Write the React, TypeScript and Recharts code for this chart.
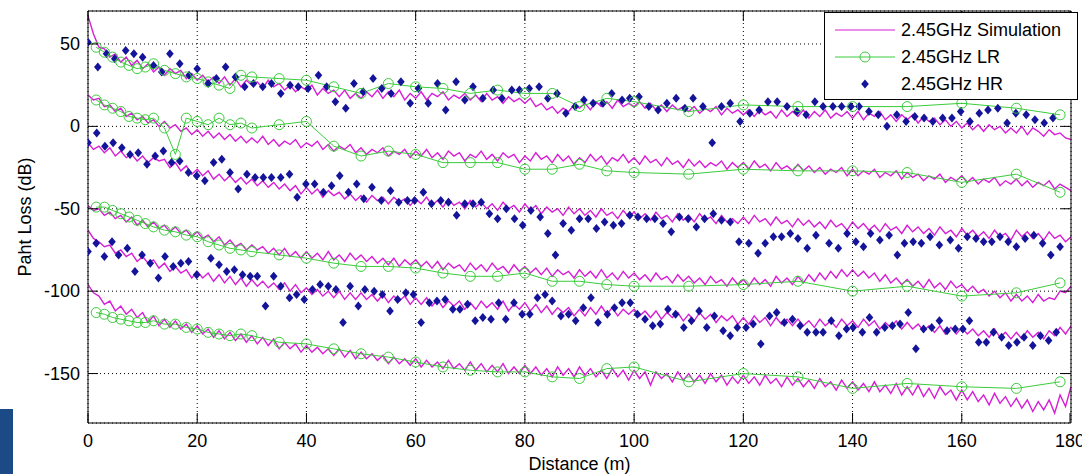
import React from "react"
import {
 CartesianGrid,
 ComposedChart,
 Legend,
 Line,
 Scatter,
 XAxis,
 YAxis,
} from "recharts"

const FONT = '"Liberation Sans", Arial, Helvetica, sans-serif'
const MAGENTA = "#d61fd6"
const GREEN = "#3acc3a"
const BLUE = "#14149a"

const X_TICKS = [0, 20, 40, 60, 80, 100, 120, 140, 160, 180]
const Y_TICKS = [-150, -100, -50, 0, 50]

// simulation curves, one value per metre (0..180 m)
const SIM1 = [
 67, 56, 48, 47, 42, 44, 39, 42, 37, 40,
 35, 38, 33, 36, 31, 35, 32, 34, 29, 32,
 28, 31, 27, 30, 26, 30, 25, 29, 24, 28,
 25, 27, 23, 28, 24, 26, 22, 25, 21, 24,
 22, 25, 19, 23, 20, 22, 18, 22, 17, 20,
 17, 21, 18, 22, 17, 21, 18, 22, 16, 20,
 17, 21, 16, 20, 18, 21, 16, 19, 17, 20,
 16, 19, 15, 20, 16, 18, 14, 18, 15, 17,
 14, 17, 12, 14, 10, 12, 8, 11, 9, 13,
 11, 14, 10, 15, 12, 15, 11, 16, 12, 14,
 12, 15, 11, 14, 10, 13, 9, 13, 10, 12,
 9, 12, 8, 11, 9, 12, 7, 11, 8, 10,
 7, 10, 6, 10, 7, 9, 5, 10, 6, 9,
 6, 10, 5, 9, 6, 10, 5, 8, 6, 9,
 5, 9, 4, 8, 6, 9, 4, 7, 3, 7,
 4, 7, 2, 6, 3, 5, 1, 4, 0, 3,
 -1, 2, -2, 1, -3, 1, -2, 0, -4, -1,
 -4, 0, -5, -1, -3, -6, -2, -5, -4, -7,
 -8,
]
const SIM2 = [
 19, 16, 17, 12, 13, 9, 11, 6, 8, 4,
 6, 2, 4, 0, 3, -1, 1, -3, -1, -5,
 -2, -6, -3, -7, -4, -8, -5, -9, -6, -10,
 -7, -10, -6, -11, -8, -12, -9, -11, -8, -13,
 -10, -12, -9, -14, -11, -15, -12, -14, -11, -16,
 -13, -17, -14, -16, -13, -18, -15, -17, -14, -19,
 -15, -18, -14, -19, -16, -20, -15, -18, -16, -21,
 -17, -19, -15, -20, -17, -21, -16, -19, -17, -22,
 -18, -21, -16, -20, -18, -22, -17, -21, -18, -23,
 -19, -22, -17, -21, -18, -23, -19, -21, -17, -22,
 -19, -23, -18, -22, -20, -24, -19, -23, -21, -25,
 -20, -24, -21, -25, -22, -24, -21, -26, -22, -25,
 -22, -26, -21, -25, -23, -27, -22, -26, -24, -27,
 -23, -27, -24, -28, -25, -29, -26, -28, -25, -30,
 -26, -30, -27, -29, -26, -31, -28, -30, -27, -32,
 -28, -31, -29, -33, -30, -32, -29, -34, -31, -33,
 -30, -34, -31, -35, -32, -34, -31, -36, -33, -35,
 -32, -36, -33, -37, -34, -36, -33, -38, -35, -37,
 -39,
]
const SIM3 = [
 -10, -14, -12, -16, -13, -18, -15, -19, -17, -21,
 -18, -22, -19, -21, -20, -25, -22, -27, -24, -29,
 -26, -30, -27, -32, -29, -33, -30, -34, -31, -35,
 -32, -36, -33, -37, -34, -38, -35, -39, -36, -41,
 -37, -41, -38, -43, -39, -42, -40, -44, -41, -45,
 -42, -46, -42, -45, -43, -47, -43, -46, -44, -48,
 -44, -47, -43, -48, -45, -49, -44, -48, -46, -50,
 -45, -49, -46, -50, -47, -51, -46, -50, -48, -52,
 -47, -51, -48, -53, -49, -52, -50, -54, -49, -53,
 -50, -54, -51, -55, -50, -54, -52, -56, -51, -55,
 -52, -56, -53, -57, -52, -56, -54, -58, -53, -57,
 -54, -58, -53, -57, -55, -59, -54, -58, -56, -59,
 -55, -59, -54, -58, -56, -60, -55, -59, -57, -61,
 -56, -60, -57, -61, -58, -62, -57, -61, -59, -63,
 -58, -62, -59, -63, -60, -64, -59, -63, -61, -65,
 -60, -64, -61, -65, -62, -66, -61, -65, -63, -67,
 -62, -66, -63, -67, -64, -68, -63, -67, -65, -69,
 -63, -67, -64, -68, -65, -69, -64, -68, -66, -70,
 -67,
]
const SIM4 = [
 -48, -51, -50, -54, -52, -56, -54, -58, -55, -60,
 -57, -61, -58, -62, -60, -64, -61, -65, -63, -67,
 -64, -68, -66, -70, -67, -72, -69, -73, -71, -75,
 -72, -75, -73, -77, -74, -78, -74, -79, -76, -80,
 -76, -80, -77, -81, -76, -81, -78, -82, -77, -81,
 -78, -82, -79, -83, -80, -84, -80, -85, -81, -84,
 -81, -85, -82, -86, -82, -87, -83, -86, -84, -88,
 -83, -87, -84, -88, -83, -87, -85, -89, -84, -88,
 -85, -89, -86, -90, -86, -91, -87, -90, -88, -92,
 -87, -91, -88, -92, -87, -92, -89, -93, -88, -92,
 -89, -93, -90, -94, -89, -93, -91, -95, -90, -94,
 -91, -95, -92, -96, -91, -95, -93, -97, -92, -96,
 -93, -97, -92, -96, -93, -97, -91, -95, -92, -96,
 -91, -95, -90, -94, -89, -93, -88, -92, -87, -91,
 -87, -91, -88, -92, -89, -94, -90, -95, -92, -96,
 -93, -97, -94, -98, -93, -98, -95, -99, -94, -98,
 -96, -100, -97, -101, -99, -103, -100, -104, -101, -106,
 -102, -106, -103, -107, -102, -106, -104, -105, -100, -101,
 -97,
]
const SIM5 = [
 -63, -68, -70, -73, -72, -77, -75, -79, -77, -82,
 -79, -83, -81, -86, -83, -88, -85, -89, -87, -92,
 -88, -92, -89, -94, -90, -95, -91, -96, -92, -97,
 -93, -97, -94, -98, -95, -99, -95, -100, -96, -101,
 -98, -102, -99, -103, -100, -104, -100, -105, -101, -105,
 -101, -105, -102, -106, -102, -107, -103, -106, -103, -108,
 -104, -108, -104, -109, -105, -110, -106, -109, -106, -111,
 -107, -111, -106, -110, -107, -111, -106, -112, -108, -111,
 -107, -112, -108, -113, -109, -114, -110, -113, -110, -115,
 -111, -115, -110, -114, -109, -114, -110, -115, -111, -114,
 -111, -115, -112, -116, -112, -117, -113, -116, -113, -118,
 -114, -118, -113, -117, -114, -119, -115, -118, -115, -120,
 -116, -120, -115, -119, -116, -121, -116, -120, -117, -121,
 -117, -121, -118, -122, -117, -121, -118, -122, -117, -121,
 -118, -122, -117, -121, -118, -123, -119, -122, -118, -123,
 -119, -123, -120, -124, -121, -125, -121, -126, -122, -126,
 -122, -126, -123, -127, -124, -128, -123, -128, -125, -129,
 -125, -129, -124, -128, -125, -129, -124, -127, -122, -126,
 -121,
]
const SIM6 = [
 -96, -101, -103, -108, -106, -112, -109, -114, -111, -116,
 -113, -119, -115, -121, -117, -122, -118, -123, -120, -125,
 -121, -126, -123, -128, -124, -129, -125, -130, -126, -131,
 -127, -132, -128, -133, -129, -135, -131, -135, -132, -137,
 -133, -137, -134, -138, -135, -139, -135, -140, -136, -141,
 -137, -141, -138, -142, -139, -144, -140, -144, -141, -145,
 -141, -146, -142, -146, -143, -147, -142, -147, -144, -148,
 -143, -148, -144, -149, -145, -149, -144, -150, -146, -150,
 -145, -150, -146, -151, -147, -152, -146, -151, -147, -152,
 -146, -151, -147, -152, -148, -153, -147, -152, -148, -154,
 -148, -153, -149, -157, -149, -153, -150, -155, -149, -154,
 -150, -155, -151, -156, -150, -155, -151, -157, -152, -156,
 -151, -156, -152, -157, -151, -156, -153, -158, -152, -157,
 -153, -158, -154, -159, -153, -158, -155, -160, -154, -159,
 -155, -160, -156, -161, -155, -161, -157, -162, -156, -163,
 -158, -163, -157, -164, -159, -165, -158, -163, -160, -166,
 -160, -166, -161, -167, -163, -169, -162, -168, -164, -170,
 -165, -171, -166, -173, -167, -172, -166, -174, -163, -170,
 -158,
]

// LR measurement positions (m) and values (dB)
const LR_X = [
 1.5, 3, 4.5, 6, 7.5, 9, 10.5, 12, 14, 16, 18, 20, 22, 24, 26, 28, 30,
 35, 40, 45, 50, 55, 60, 65, 70, 75, 80, 85, 90, 95, 100,
 110, 120, 130, 140, 150, 160, 170, 178,
]
const LR1 = [
 48, 45, 42, 39, 37, 35, 36, 38, 34, 32, 30, 29, 27, 25, 23, 31, 30,
 29, 28, 24, 20, 26, 24, 23, 20, 22, 20, 20, 12, 17, 15,
 9, 13, 12, 12, 12, 14, 11, 7,
]
const LR2 = [
 16, 13, 11, 9, 6, 5, 4, 5, -1, -17, 5, 3, 1, 5, 1, 2, -1,
 1, 3, -12, -18, -15, -17, -22, -22, -22, -26, -26, -23, -27, -28,
 -29, -26, -27, -27, -28, -34, -29, -40,
]
const LR4 = [
 -49, -49, -51, -53, -55, -57, -59, -61, -63, -64, -66, -67, -70, -72, -74, -75, -76,
 -78, -80, -83, -85, -85, -86, -89, -91, -91, -89, -94, -94, -96, -97,
 -97, -96, -94, -100, -97, -103, -101, -95,
]
const LR6 = [
 -113, -114, -116, -117, -118, -119, -119, -118, -120, -120, -122, -123, -125, -126, -127, -126, -127,
 -131, -132, -135, -138, -140, -143, -146, -148, -149, -149, -152, -153, -147, -146,
 -155, -150, -152, -159, -156, -158, -159, -155,
]

// HR measurements [distance, loss]
const HR1: [number, number][] = [
 [0, 51], [1.8, 36], [3.4, 44], [4.9, 41], [6.9, 46], [8.4, 44], [10, 42], [12, 37], [13.5, 33], [15, 44],
 [16.8, 38], [18.5, 31], [20, 35], [22, 26], [23.5, 29], [25.2, 36], [27, 30], [28.7, 24], [30.3, 26], [32, 24],
 [33.6, 26], [35.3, 20], [37, 25], [38.5, 24], [40.3, 23], [42.2, 31], [43.7, 24], [45.3, 15], [47.2, 11], [48.7, 26],
 [50.4, 21], [52.2, 29], [53.8, 23], [55.5, 20], [57.3, 27], [59, 14], [60.5, 23], [62.3, 14], [64, 26], [65.5, 10],
 [67.4, 27], [69, 16], [70.5, 24], [72.3, 17], [74.2, 22], [75.8, 17], [77.6, 22], [79, 22], [80.8, 23], [82.6, 24],
 [84.2, 17], [85.9, 20], [87.5, 8], [89.2, 12], [90.8, 16], [92.5, 14], [94.3, 14], [95.9, 20], [97.8, 16], [99.2, 17],
 [100.9, 18], [102.7, 12], [104.4, 10], [106, 14], [107.7, 17], [109.3, 11], [110.8, 17], [112.6, 12], [114.3, -10], [116, 12],
 [117.6, 14], [119.4, 3], [121.2, 8], [122.9, 10], [124.5, 15], [126.2, 15], [128, 12], [129.8, 9], [131.5, 7], [133.1, 15],
 [134.6, 12], [136.4, 12], [138, 12], [139.7, 12], [141.2, 12], [143, 9], [144.7, 7], [146.3, 0], [148.1, 7], [149.8, 3],
 [151.4, 6], [153.1, 5], [154.7, 3], [156.5, 5], [158.2, 5], [159.8, 9], [161.5, 3], [163.2, 8], [164.8, 10], [166.6, 11],
 [168.3, 2], [169.9, 8], [171.8, 7], [173.4, 4], [175.1, 2], [176.7, 5],
]
const HR3: [number, number][] = [
 [0, -10], [1.6, -4], [3.1, -12], [4.6, -10], [6.2, -13], [7.7, -17], [9.2, -16], [10.8, -23], [12.3, -18], [13.8, -15],
 [15.3, -22], [16.8, -21], [18.4, -28], [19.9, -30], [21.4, -33], [23, -22], [24.5, -20], [26, -28], [27.5, -38], [29.1, -29],
 [30.6, -31], [32.1, -31], [33.6, -31], [35.3, -31], [36.9, -29], [38.3, -43], [39.9, -35], [41.5, -35], [43.1, -40], [44.6, -36],
 [46.1, -30], [47.7, -40], [49.2, -35], [50.5, -44], [52, -37], [53.7, -45], [55.4, -39], [56.9, -46], [58.5, -45], [59.8, -45],
 [61.4, -40], [62.9, -47], [64.6, -45], [66, -46], [67.5, -54], [69, -47], [70.5, -47], [72, -46], [73.5, -53], [75, -56],
 [76.6, -50], [78.1, -56], [79.6, -60], [81.1, -51], [82.8, -55], [84.2, -65], [85.6, -78], [87, -59], [88.5, -63], [90, -56],
 [91.6, -56], [93.1, -62], [94.6, -58], [96.2, -60], [97.7, -59], [99.2, -54], [100.7, -55], [102.3, -56], [103.8, -56], [105.3, -59],
 [106.8, -64], [108.3, -55], [109.9, -56], [111.4, -61], [112.9, -56], [114.5, -53], [116, -57], [117.6, -58], [119.2, -70], [121, -71],
 [122.7, -77], [124, -71], [125.5, -67], [127, -67], [128.6, -65], [130, -68], [131.7, -74], [133.3, -66], [135.7, -71], [137.4, -74],
 [139, -65], [140.6, -70], [142, -73], [143.3, -65], [145, -69], [146.7, -66], [148.2, -78], [149.5, -71], [151.1, -70], [152.6, -71],
 [154.2, -67], [155.9, -72], [157.9, -69], [159.4, -74], [161, -67], [162.6, -68], [164, -70], [165.5, -70], [167, -67], [168.5, -70],
 [170, -73], [171.6, -68], [173.2, -66], [174.8, -71], [176.3, -78], [178, -73],
]
const HR5: [number, number][] = [
 [0, -76], [1.5, -71], [3, -79], [4.4, -70], [5.6, -78], [7.2, -74], [8.6, -88], [9.9, -78], [11.4, -83], [12.9, -92],
 [14.1, -79], [15.6, -85], [17, -83], [18.4, -82], [19.9, -90], [22.5, -80], [24, -84], [25.4, -88], [26.8, -87], [28.3, -90],
 [29.7, -91], [31, -91], [32.5, -109], [34, -91], [35.3, -97], [36.9, -104], [38.2, -102], [39.6, -105], [41.1, -99], [42.5, -96],
 [44, -97], [45.4, -99], [46.7, -119], [48, -97], [49.5, -109], [50.7, -99], [52.4, -100], [53.9, -102], [55.3, -112], [56.7, -105],
 [58.2, -101], [59.6, -102], [61, -119], [62.5, -107], [63.9, -106], [65.4, -105], [66.8, -111], [68.1, -111], [69.5, -108], [70.9, -118],
 [72.3, -116], [73.8, -117], [75.2, -107], [76.5, -117], [78, -107], [79.5, -114], [80.9, -114], [82.3, -104], [83.7, -102], [85, -106],
 [86.6, -115], [88, -114], [89.3, -118], [90.7, -110], [92.1, -104], [93.4, -119], [95.1, -114], [96.4, -110], [97.8, -107], [99.3, -107],
 [100.6, -114], [102, -117], [103.4, -121], [104.8, -120], [106.2, -111], [107.6, -114], [109.1, -122], [110.5, -118], [111.9, -112], [113.3, -122],
 [114.7, -115], [116.3, -124], [117.6, -127], [118.9, -122], [120.5, -122], [121.8, -120], [123.2, -132], [124.8, -115], [126.1, -113], [127.5, -119],
 [129, -117], [130.4, -121], [131.7, -125], [133.3, -125], [134.6, -125], [136.1, -118], [137.5, -127], [138.9, -123], [140.1, -122], [141.8, -125],
 [143.1, -116], [144.4, -125], [145.9, -122], [147.3, -121], [148.7, -120], [150.2, -113], [151.6, -135], [153, -123], [154.5, -122], [155.9, -118],
 [157.3, -124], [158.8, -123], [160.2, -123], [161.4, -118], [163.1, -131], [164.5, -131], [165.8, -125], [167.3, -128], [168.6, -133], [170.1, -131],
 [171.4, -128], [173, -133], [174.4, -127], [175.9, -130], [177.3, -125],
]

const LEGEND_ITEMS = [
 { name: "2.45GHz Simulation", kind: "sim" },
 { name: "2.45GHz LR", kind: "lr" },
 { name: "2.45GHz HR", kind: "hr" },
]

const simSeries = [SIM1, SIM2, SIM3, SIM4, SIM5, SIM6].map((vals) =>
 vals.map((y, i) => ({ x: i, y }))
)
const lrSeries = [LR1, LR2, LR4, LR6].map((vals) =>
 vals.map((y, i) => ({ x: LR_X[i], y }))
)
const hrSeries = [HR1, HR3, HR5].map((pts) => pts.map(([x, y]) => ({ x, y })))

const tickText = { fontFamily: FONT, fontSize: 18, fill: "#000" }

const BottomTick = (props: any) => {
 const { x, y, payload } = props
 return (
  <g>
   <line x1={x} y1={y} x2={x} y2={y - 10} stroke="#000" />
   <text x={x} y={y + 24} textAnchor="middle" {...tickText}>
    {payload.value}
   </text>
  </g>
 )
}

const LeftTick = (props: any) => {
 const { x, y, payload } = props
 return (
  <g>
   <line x1={x} y1={y} x2={x + 10} y2={y} stroke="#000" />
   <text x={x - 8} y={y} textAnchor="end" dominantBaseline="central" {...tickText}>
    {payload.value}
   </text>
  </g>
 )
}

const TopTick = (props: any) => {
 const { x, y } = props
 return <line x1={x} y1={y} x2={x} y2={y + 10} stroke="#000" />
}

const RightTick = (props: any) => {
 const { x, y } = props
 return <line x1={x} y1={y} x2={x - 10} y2={y} stroke="#000" />
}

const XTitle = (props: any) => {
 const vb = props.viewBox || { x: 88, y: 423, width: 983, height: 51 }
 return (
  <text x={vb.x + vb.width / 2} y={vb.y + 47} textAnchor="middle" {...tickText}>
   Distance (m)
  </text>
 )
}

const YTitle = (props: any) => {
 const vb = props.viewBox || { x: 0, y: 11, width: 88, height: 412 }
 const cx = vb.x + 25
 const cy = vb.y + vb.height / 2
 return (
  <text
   x={cx}
   y={cy}
   transform={`rotate(-90 ${cx} ${cy})`}
   textAnchor="middle"
   dominantBaseline="central"
   {...tickText}>
   Paht Loss (dB)
  </text>
 )
}

const Diamond = (props: any) => {
 const { cx, cy } = props
 if (cx == null || cy == null) return null
 return (
  <polygon
   points={`${cx},${cy - 4.5} ${cx + 3.8},${cy} ${cx},${cy + 4.5} ${cx - 3.8},${cy}`}
   fill={BLUE}
  />
 )
}

const LegendBox = () => (
 <div
  style={{
   width: 254,
   height: 88,
   border: "1px solid #000",
   background: "#fff",
   boxSizing: "border-box",
   position: "relative",
   fontFamily: FONT,
   fontSize: 18,
   color: "#000",
  }}>
  {LEGEND_ITEMS.map((item, i) => (
   <div
    key={item.name}
    style={{
     position: "absolute",
     left: 10,
     top: 6 + i * 27,
     height: 22,
     display: "flex",
     alignItems: "center",
     whiteSpace: "nowrap",
    }}>
    <svg width={62} height={22}>
     {item.kind === "sim" && <line x1={0} y1={11} x2={60} y2={11} stroke={MAGENTA} />}
     {item.kind === "lr" && (
      <g>
       <line x1={0} y1={11} x2={60} y2={11} stroke={GREEN} />
       <circle cx={30} cy={11} r={5} fill="none" stroke={GREEN} />
      </g>
     )}
     {item.kind === "hr" && <Diamond cx={30} cy={11} />}
    </svg>
    <span style={{ marginLeft: 4 }}>{item.name}</span>
   </div>
  ))}
 </div>
)

export default function App() {
 return (
  <div style={{ position: "absolute", left: 0, top: 0, width: 1082, height: 474, background: "#fff" }}>
   <ComposedChart width={1082} height={474} margin={{ top: 10, right: 10, bottom: 0, left: 0 }}>
    <CartesianGrid stroke="#000" strokeDasharray="1 3" />
    <XAxis
     dataKey="x"
     type="number"
     domain={[0, 180]}
     ticks={X_TICKS}
     allowDataOverflow
     height={51}
     axisLine={{ stroke: "#000" }}
     tickLine={false}
     tickSize={0}
     tickMargin={0}
     tick={<BottomTick />}
     label={{ content: (p: any) => <XTitle {...p} /> }}
    />
    <XAxis
     xAxisId="top"
     orientation="top"
     dataKey="x"
     type="number"
     domain={[0, 180]}
     ticks={X_TICKS}
     allowDataOverflow
     height={1}
     axisLine={{ stroke: "#000" }}
     tickLine={false}
     tickSize={0}
     tickMargin={0}
     tick={<TopTick />}
    />
    <YAxis
     dataKey="y"
     type="number"
     domain={[-180, 70]}
     ticks={Y_TICKS}
     allowDataOverflow
     width={88}
     axisLine={{ stroke: "#000" }}
     tickLine={false}
     tickSize={0}
     tickMargin={0}
     tick={<LeftTick />}
     label={{ content: (p: any) => <YTitle {...p} /> }}
    />
    <YAxis
     yAxisId="right"
     orientation="right"
     type="number"
     domain={[-180, 70]}
     ticks={Y_TICKS}
     allowDataOverflow
     width={1}
     axisLine={{ stroke: "#000" }}
     tickLine={false}
     tickSize={0}
     tickMargin={0}
     tick={<RightTick />}
    />
    {simSeries.map((d, i) => (
     <Line
      key={`sim${i}`}
      data={d}
      dataKey="y"
      stroke={MAGENTA}
      strokeWidth={1.4}
      dot={false}
      activeDot={false}
      legendType="none"
      isAnimationActive={false}
     />
    ))}
    {lrSeries.map((d, i) => (
     <Line
      key={`lr${i}`}
      data={d}
      dataKey="y"
      stroke={GREEN}
      strokeWidth={1}
      dot={{ r: 5, stroke: GREEN, strokeWidth: 1, fill: "none" }}
      activeDot={false}
      legendType="none"
      isAnimationActive={false}
     />
    ))}
    {hrSeries.map((d, i) => (
     <Scatter
      key={`hr${i}`}
      data={d}
      dataKey="y"
      fill={BLUE}
      shape={<Diamond />}
      legendType="none"
      isAnimationActive={false}
     />
    ))}
    <Legend
     layout="horizontal"
     verticalAlign="middle"
     align="center"
     content={<LegendBox />}
     wrapperStyle={{ position: "absolute", top: 12, left: 824, width: 254, height: 88 }}
    />
   </ComposedChart>
   <div style={{ position: "absolute", left: 0, top: 409, width: 13, height: 65, background: "#1c4a86" }} />
  </div>
 )
}
